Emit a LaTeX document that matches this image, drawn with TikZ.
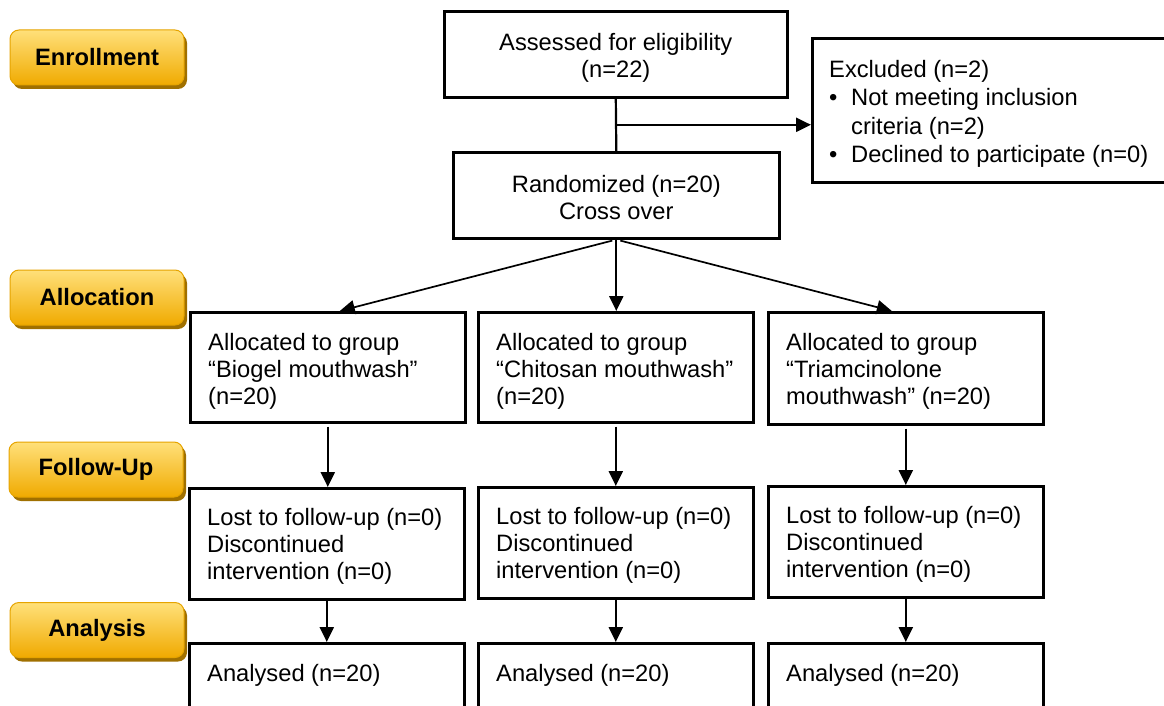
\documentclass[tikz,border=0pt]{standalone}
\usepackage{fontspec}
\setmainfont{Liberation Sans}
\usetikzlibrary{arrows.meta,calc,shadows}
\definecolor{labtop}{HTML}{FFE07A}
\definecolor{labmid}{HTML}{FFC414}
\definecolor{labbot}{HTML}{F0AA00}
\definecolor{labedge}{HTML}{E6A400}
\definecolor{labshadow}{HTML}{A07000}
\newcommand\fstrut{\rule{0pt}{20pt}}
\begin{document}
\begin{tikzpicture}[x=1pt,y=-1pt,
  font=\fontsize{23.7}{27}\selectfont,
  box/.style={draw, line width=2.6pt, inner sep=0pt, anchor=north west},
  txt/.style={inner sep=0pt, align=left, anchor=north west},
  ctxt/.style={inner sep=0pt, align=center, anchor=north},
  stage/.style={rounded corners=9pt, minimum width=174pt, minimum height=55pt,
    inner sep=0pt, font=\fontsize{23.7}{27}\selectfont\bfseries,
    top color=labtop, middle color=labmid, bottom color=labbot,
    draw=labedge, line width=1pt,
    general shadow={fill=labshadow, shadow xshift=3pt, shadow yshift=-4pt}},
  arr/.style={line width=2.2pt, -{Triangle[length=15pt,width=14pt]}},
  arrthin/.style={line width=1.7pt, -{Triangle[length=15pt,width=14pt]}}]
\clip (0,0) rectangle (1164,706);
\fill[white] (0,0) rectangle (1164,706);

% stage labels
\node[stage] (sEnr) at (97,57.5) {Enrollment};
\node[stage] (sAll) at (97,297.5) {Allocation};
\node[stage] (sFol) at (96,469.5) {Follow-Up};
\node[stage] (sAna) at (97,630) {Analysis};

% boxes
\node[box, minimum width=343pt, minimum height=86pt] (assess) at (443,10) {};
\node[box, minimum width=326pt, minimum height=86pt] (rand) at (452,151) {};
\node[box, minimum width=360pt, minimum height=144pt] (excl) at (811,37) {};
\node[box, minimum width=275pt, minimum height=110pt] (al1) at (189,311) {};
\node[box, minimum width=275pt, minimum height=110pt] (al2) at (477,311) {};
\node[box, minimum width=275pt, minimum height=112pt] (al3) at (767,311) {};
\node[box, minimum width=275pt, minimum height=111pt] (fu1) at (188,487) {};
\node[box, minimum width=275pt, minimum height=111pt] (fu2) at (477,486) {};
\node[box, minimum width=275pt, minimum height=111pt] (fu3) at (767,485) {};
\node[box, minimum width=275pt, minimum height=90pt] (an1) at (188,642) {};
\node[box, minimum width=275pt, minimum height=90pt] (an2) at (477,642) {};
\node[box, minimum width=275pt, minimum height=90pt] (an3) at (767,642) {};

% texts
\node[ctxt] (tAssess) at ($(assess.north)+(0,20)$) {\fstrut Assessed for eligibility\\(n=22)};
\node[ctxt] (tRand) at ($(rand.north)+(0,21)$) {\fstrut Randomized (n=20)\\Cross over};
\node[txt, font=\fontsize{23.7}{28.5}\selectfont] (tExcl) at ($(excl.north west)+(18,20)$)
  {\fstrut Excluded (n=2)\\
   \makebox[22pt][l]{\textbullet}Not meeting inclusion\\
   \hspace*{22pt}criteria (n=2)\\
   \makebox[22pt][l]{\textbullet}Declined to participate (n=0)};
\node[txt] (tAl1) at ($(al1.north west)+(19,19)$) {\fstrut Allocated to group\\“Biogel mouthwash”\\(n=20)};
\node[txt] (tAl2) at ($(al2.north west)+(19,19)$) {\fstrut Allocated to group\\“Chitosan mouthwash”\\(n=20)};
\node[txt] (tAl3) at ($(al3.north west)+(19,19)$) {\fstrut Allocated to group\\“Triamcinolone\\mouthwash” (n=20)};
\node[txt] (tFu1) at ($(fu1.north west)+(19,18)$) {\fstrut Lost to follow-up (n=0)\\Discontinued\\intervention (n=0)};
\node[txt] (tFu2) at ($(fu2.north west)+(19,18)$) {\fstrut Lost to follow-up (n=0)\\Discontinued\\intervention (n=0)};
\node[txt] (tFu3) at ($(fu3.north west)+(19,18)$) {\fstrut Lost to follow-up (n=0)\\Discontinued\\intervention (n=0)};
\node[txt] (tAn1) at ($(an1.north west)+(19,19)$) {\fstrut Analysed (n=20)};
\node[txt] (tAn2) at ($(an2.north west)+(19,19)$) {\fstrut Analysed (n=20)};
\node[txt] (tAn3) at ($(an3.north west)+(19,19)$) {\fstrut Analysed (n=20)};

% connectors
\draw[line width=2.2pt] (assess.south) -- (rand.north);
\coordinate (br) at ($(assess.south)!0.5!(rand.north)$);
\draw[arr] (br) -- (br -| excl.west);
\draw[arr] (rand.south) -- (rand.south |- al2.north);
\draw[arrthin] ($(rand.south)+(-4,1)$) -- ($(al1.north)+(12,0)$);
\draw[arrthin] ($(rand.south)+(4,1)$) -- ($(al3.north)+(-14,0)$);
\draw[arr, shorten <=3pt] (al1.south) -- (al1.south |- fu1.north);
\draw[arr, shorten <=3pt] (al2.south) -- (al2.south |- fu2.north);
\draw[arr, shorten <=3pt] (al3.south) -- (al3.south |- fu3.north);
\draw[arr] (fu1.south) -- (fu1.south |- an1.north);
\draw[arr] (fu2.south) -- (fu2.south |- an2.north);
\draw[arr] (fu3.south) -- (fu3.south |- an3.north);
\end{tikzpicture}
\end{document}
